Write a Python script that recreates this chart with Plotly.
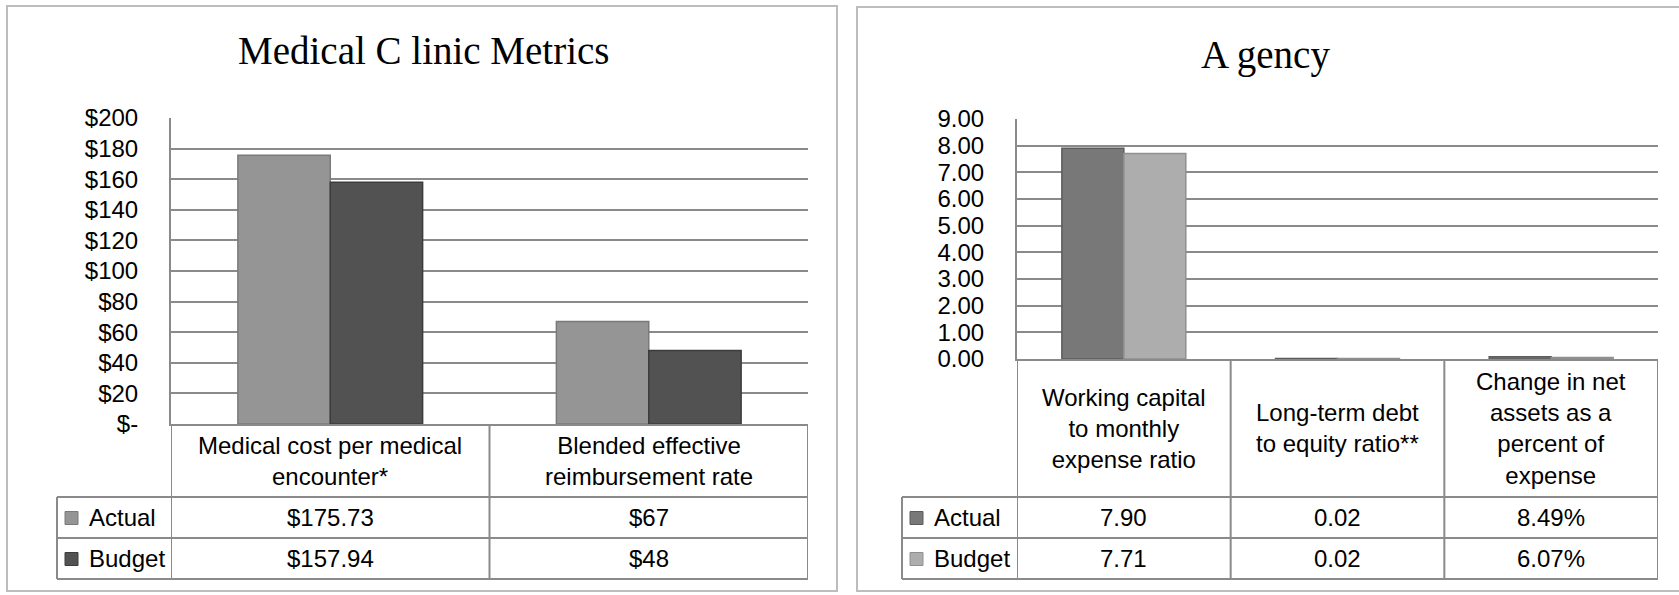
import plotly.graph_objects as go

# ---- data ---------------------------------------------------------------
clinic_title = "Medical C linic Metrics"
clinic_categories = ["Medical cost per medical<br>encounter*",
                     "Blended effective<br>reimbursement rate"]
clinic_actual = [175.73, 67]
clinic_budget = [157.94, 48]
clinic_actual_text = ["$175.73", "$67"]
clinic_budget_text = ["$157.94", "$48"]
clinic_ticks = [0, 20, 40, 60, 80, 100, 120, 140, 160, 180, 200]
clinic_ticktext = ["$-", "$20", "$40", "$60", "$80", "$100", "$120",
                   "$140", "$160", "$180", "$200"]

agency_title = "A gency"
agency_categories = ["Working capital<br>to monthly<br>expense ratio",
                     "Long-term debt<br>to equity ratio**",
                     "Change in net<br>assets as a<br>percent of<br>expense"]
agency_actual = [7.90, 0.02, 0.0849]
agency_budget = [7.71, 0.02, 0.0607]
agency_actual_text = ["7.90", "0.02", "8.49%"]
agency_budget_text = ["7.71", "0.02", "6.07%"]
agency_ticks = [0, 1, 2, 3, 4, 5, 6, 7, 8, 9]
agency_ticktext = [f"{t:.2f}" for t in agency_ticks]

series_names = ["Actual", "Budget"]

# ---- layout helpers -----------------------------------------------------
W, H = 1679, 595
FONT = "Liberation Sans, Arial, sans-serif"
TITLE_FONT = "Liberation Serif, Times New Roman, serif"
GRID = "#8a8a8a"
TABLE_LINE = "#8a8a8a"
FS = 24


def fx(p):
    return p / W


def fy(p):
    return 1 - p / H


panels = [
    dict(title=clinic_title, cats=clinic_categories,
         actual=clinic_actual, budget=clinic_budget,
         atext=clinic_actual_text, btext=clinic_budget_text,
         ticks=clinic_ticks, ticktext=clinic_ticktext,
         colors=("#959595", "#525252"), lines=("#7a7a7a", "#3c3c3c"),
         box=(7, 6, 837, 591), title_xy=(424, 50),
         plot_x=(171, 808), plot_y=(118, 424), legend_x=57),
    dict(title=agency_title, cats=agency_categories,
         actual=agency_actual, budget=agency_budget,
         atext=agency_actual_text, btext=agency_budget_text,
         ticks=agency_ticks, ticktext=agency_ticktext,
         colors=("#787878", "#adadad"), lines=("#5c5c5c", "#909090"),
         box=(857, 7, 1700, 591), title_xy=(1265, 55),
         plot_x=(1017, 1658), plot_y=(119, 359), legend_x=902),
]

row_lines = [497, 538, 579]  # bottoms of header, Actual and Budget rows

fig = go.Figure()
shapes = []
annotations = []

for k, p in enumerate(panels):
    xa = "x" if k == 0 else "x2"
    ya = "y" if k == 0 else "y2"
    axis_x = "xaxis" if k == 0 else "xaxis2"
    axis_y = "yaxis" if k == 0 else "yaxis2"
    n = len(p["cats"])
    idx = list(range(n))

    for s, (vals, col, lc) in enumerate(zip((p["actual"], p["budget"]),
                                            p["colors"], p["lines"])):
        fig.add_trace(go.Bar(
            x=idx, y=vals, name=series_names[s], xaxis=xa, yaxis=ya,
            marker=dict(color=col, line=dict(color=lc, width=1.5)),
            showlegend=False, hoverinfo="skip"))

    fig.update_layout({
        axis_x: dict(domain=[fx(p["plot_x"][0]), fx(p["plot_x"][1])],
                     range=[-0.5, n - 0.5], showticklabels=False,
                     showgrid=False, zeroline=False, showline=True,
                     linecolor=TABLE_LINE, linewidth=2, ticks="",
                     anchor=ya, fixedrange=True),
        axis_y: dict(domain=[fy(p["plot_y"][1]), fy(p["plot_y"][0])],
                     range=[p["ticks"][0], p["ticks"][-1]],
                     tickmode="array", tickvals=p["ticks"],
                     ticktext=p["ticktext"], showgrid=True,
                     gridcolor=GRID, gridwidth=2, zeroline=False,
                     showline=True, linecolor=TABLE_LINE, linewidth=2,
                     ticks="", ticklabelstandoff=26,
                     tickfont=dict(family=FONT, size=FS, color="#000"),
                     anchor=xa, fixedrange=True),
    })

    # outer chart frame
    x0, y0, x1, y1 = p["box"]
    shapes.append(dict(type="rect", xref="paper", yref="paper",
                       x0=fx(x0), x1=fx(x1), y0=fy(y1), y1=fy(y0),
                       line=dict(color="#bdbdbd", width=2), layer="below"))

    # title
    annotations.append(dict(text=p["title"], xref="paper", yref="paper",
                            x=fx(p["title_xy"][0]), y=fy(p["title_xy"][1]),
                            xanchor="center", yanchor="middle",
                            showarrow=False,
                            font=dict(family=TITLE_FONT, size=39,
                                      color="#000")))

    # data table grid
    top = p["plot_y"][1]
    for i in range(n + 1):
        shapes.append(dict(type="line", xref=xa, yref="paper",
                           x0=i - 0.5, x1=i - 0.5,
                           y0=fy(top), y1=fy(row_lines[-1]),
                           line=dict(color=TABLE_LINE, width=2)))
    shapes.append(dict(type="line", xref="paper", yref="paper",
                       x0=fx(p["legend_x"]), x1=fx(p["legend_x"]),
                       y0=fy(row_lines[0]), y1=fy(row_lines[-1]),
                       line=dict(color=TABLE_LINE, width=2)))
    for yl in row_lines:
        shapes.append(dict(type="line", xref="paper", yref="paper",
                           x0=fx(p["legend_x"]), x1=fx(p["plot_x"][1]),
                           y0=fy(yl), y1=fy(yl),
                           line=dict(color=TABLE_LINE, width=2)))

    # header cells (category names)
    for i, c in enumerate(p["cats"]):
        annotations.append(dict(text=c, xref=xa, yref="paper", x=i,
                                y=fy((top + row_lines[0]) / 2),
                                xanchor="center", yanchor="middle",
                                showarrow=False,
                                font=dict(family=FONT, size=FS,
                                          color="#000")))

    # value rows with legend keys
    rows = [(row_lines[0], row_lines[1], p["atext"]),
            (row_lines[1], row_lines[2], p["btext"])]
    for s, (ra, rb, texts) in enumerate(rows):
        yc = (ra + rb) / 2
        for i, t in enumerate(texts):
            annotations.append(dict(text=t, xref=xa, yref="paper", x=i,
                                    y=fy(yc), xanchor="center",
                                    yanchor="middle", showarrow=False,
                                    font=dict(family=FONT, size=FS,
                                              color="#000")))
        kx = p["legend_x"] + 8
        shapes.append(dict(type="rect", xref="paper", yref="paper",
                           x0=fx(kx), x1=fx(kx + 13),
                           y0=fy(yc + 7), y1=fy(yc - 6),
                           fillcolor=p["colors"][s],
                           line=dict(color=p["lines"][s], width=1)))
        annotations.append(dict(text=series_names[s], xref="paper",
                                yref="paper", x=fx(kx + 22), y=fy(yc),
                                xanchor="left", yanchor="middle",
                                showarrow=False,
                                font=dict(family=FONT, size=FS,
                                          color="#000")))

fig.update_layout(
    width=W, height=H, autosize=False,
    margin=dict(l=0, r=0, t=0, b=0, pad=0, autoexpand=False),
    paper_bgcolor="white", plot_bgcolor="white",
    barmode="group", bargap=0.42, bargroupgap=0,
    shapes=shapes, annotations=annotations,
    showlegend=False,
)

fig.write_html("out.html", config={"displayModeBar": False})
